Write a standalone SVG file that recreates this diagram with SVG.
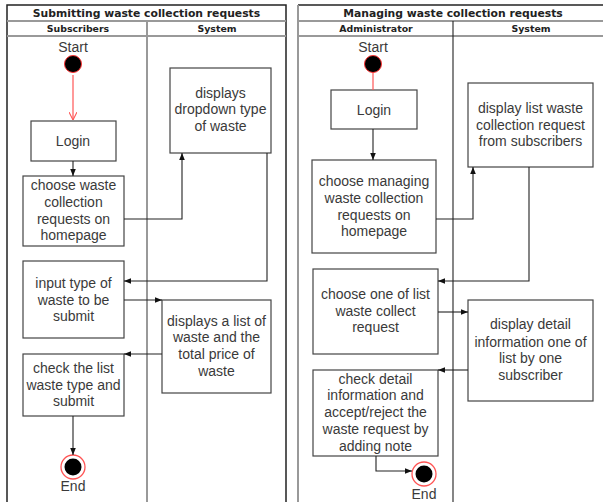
<svg xmlns="http://www.w3.org/2000/svg" width="603" height="502" viewBox="0 0 603 502">
<defs>
<style>
.title{font-family:"DejaVu Sans",Verdana,sans-serif;font-weight:bold;font-size:10.8px;fill:#222;text-anchor:middle;dominant-baseline:central}
.lane{font-family:"DejaVu Sans",Verdana,sans-serif;font-weight:bold;font-size:9.4px;fill:#222;text-anchor:middle;dominant-baseline:central}
.t{font-family:"Liberation Sans",Arial,sans-serif;font-size:14px;fill:#3a3a3a;text-anchor:middle;dominant-baseline:central}
.box{fill:#fff;stroke:#444;stroke-width:1.2}
.frame{fill:none;stroke:#222;stroke-width:1.5}
.sep{fill:none;stroke:#999;stroke-width:2}
.edge{fill:none;stroke:#222;stroke-width:1.1}
.red{fill:none;stroke:#f55;stroke-width:1.2}
</style>
<marker id="arr" viewBox="0 0 10 10" refX="10" refY="5" markerWidth="7" markerHeight="7" orient="auto" markerUnits="userSpaceOnUse">
<path d="M0,1 L10,5 L0,9 Z" fill="#111"/>
</marker>
<marker id="rarr" viewBox="0 0 10 10" refX="10" refY="5" markerWidth="8" markerHeight="8" orient="auto" markerUnits="userSpaceOnUse">
<path d="M0,0 L10,5 L0,10" fill="none" stroke="#f55" stroke-width="1.3"/>
</marker>
</defs>
<rect width="603" height="502" fill="#fff"/>

<!-- Left pool -->
<g id="pool-left">
<path class="frame" d="M7,503 V5 H286 V503"/>
<line class="sep" x1="7" y1="21" x2="286" y2="21"/>
<line class="sep" x1="7" y1="36" x2="286" y2="36"/>
<line class="sep" x1="147" y1="21" x2="147" y2="503" stroke-width="1.5"/>
<text class="title" x="146.5" y="13">Submitting waste collection requests</text>
<text class="lane" x="78" y="28.5">Subscribers</text>
<text class="lane" x="217" y="28.5">System</text>
</g>

<!-- Right pool -->
<g id="pool-right">
<path class="frame" d="M298,5 H604"/>
<line class="sep" x1="298" y1="5" x2="298" y2="503"/>
<line class="sep" x1="298" y1="21" x2="604" y2="21"/>
<line class="sep" x1="298" y1="36" x2="604" y2="36"/>
<line x1="453" y1="21" x2="453" y2="503" stroke="#222" stroke-width="1.1"/>
<text class="title" x="453" y="13">Managing waste collection requests</text>
<text class="lane" x="376" y="28.5">Administrator</text>
<text class="lane" x="531" y="28.5">System</text>
</g>

<!-- Left nodes -->
<g id="l-start">
<text class="t" x="73" y="47">Start</text>
<circle cx="73" cy="64" r="8.5" fill="#000" stroke="#f33" stroke-width="1"/>
</g>
<g id="l-login"><rect class="box" x="31" y="121" width="85" height="40"/><text class="t" x="73" y="141">Login</text></g>
<g id="l-choose"><rect class="box" x="23" y="176" width="101" height="70"/>
<text class="t" x="73.5" y="185">choose waste</text><text class="t" x="73.5" y="202">collection</text><text class="t" x="73.5" y="219">requests on</text><text class="t" x="73.5" y="235">homepage</text></g>
<g id="l-dropdown"><rect class="box" x="170" y="68" width="101" height="85"/>
<text class="t" x="220.5" y="93">displays</text><text class="t" x="220.5" y="109">dropdown type</text><text class="t" x="220.5" y="126">of waste</text></g>
<g id="l-input"><rect class="box" x="23" y="261" width="101" height="77"/>
<text class="t" x="73.5" y="283">input type of</text><text class="t" x="73.5" y="300">waste to be</text><text class="t" x="73.5" y="316">submit</text></g>
<g id="l-list"><rect class="box" x="162" y="300" width="109" height="93"/>
<text class="t" x="216.5" y="321">displays a list of</text><text class="t" x="216.5" y="337">waste and the</text><text class="t" x="216.5" y="354">total price of</text><text class="t" x="216.5" y="371">waste</text></g>
<g id="l-check"><rect class="box" x="23" y="354" width="101" height="62"/>
<text class="t" x="73.5" y="368">check the list</text><text class="t" x="73.5" y="385">waste type and</text><text class="t" x="73.5" y="401">submit</text></g>
<g id="l-end">
<circle cx="73" cy="467" r="12" fill="#fff" stroke="#f55" stroke-width="1.3"/>
<circle cx="73" cy="467" r="8.5" fill="#000"/>
<text class="t" x="73" y="486">End</text>
</g>

<!-- Right nodes -->
<g id="r-start">
<text class="t" x="373" y="47">Start</text>
<circle cx="373" cy="64" r="8.5" fill="#000" stroke="#f33" stroke-width="1"/>
</g>
<g id="r-login"><rect class="box" x="331" y="90" width="86" height="39"/><text class="t" x="374" y="109.5">Login</text></g>
<g id="r-choose"><rect class="box" x="312" y="160" width="124" height="93"/>
<text class="t" x="374" y="181">choose managing</text><text class="t" x="374" y="198">waste collection</text><text class="t" x="374" y="215">requests on</text><text class="t" x="374" y="231">homepage</text></g>
<g id="r-displaylist"><rect class="box" x="468" y="83" width="125" height="84"/>
<text class="t" x="530.5" y="108">display list waste</text><text class="t" x="530.5" y="125">collection request</text><text class="t" x="530.5" y="141">from subscribers</text></g>
<g id="r-chooseone"><rect class="box" x="313" y="269" width="125" height="85"/>
<text class="t" x="375.5" y="294">choose one of list</text><text class="t" x="375.5" y="311">waste collect</text><text class="t" x="375.5" y="327">request</text></g>
<g id="r-detail"><rect class="box" x="468" y="300" width="125" height="101"/>
<text class="t" x="530.5" y="324">display detail</text><text class="t" x="530.5" y="342">information one of</text><text class="t" x="530.5" y="358">list by one</text><text class="t" x="530.5" y="375">subscriber</text></g>
<g id="r-check"><rect class="box" x="313" y="370" width="125" height="86"/>
<text class="t" x="375.5" y="379">check detail</text><text class="t" x="375.5" y="395">information and</text><text class="t" x="375.5" y="412">accept/reject the</text><text class="t" x="375.5" y="429">waste request by</text><text class="t" x="375.5" y="446">adding note</text></g>
<g id="r-end">
<circle cx="424" cy="474" r="12" fill="#fff" stroke="#f55" stroke-width="1.3"/>
<circle cx="424" cy="474" r="8.5" fill="#000"/>
<text class="t" x="424" y="494">End</text>
</g>

<!-- Connectors -->
<g id="connectors">
<path class="red" d="M73,75 V120" marker-end="url(#rarr)"/>
<path class="edge" d="M73,161 V176" marker-end="url(#arr)"/>
<path class="edge" d="M124,219 H182 V153" marker-end="url(#arr)"/>
<path class="edge" d="M267,153 V281 H124" marker-end="url(#arr)"/>
<path class="edge" d="M124,300 H162" marker-end="url(#arr)"/>
<path class="edge" d="M162,354 H124" marker-end="url(#arr)"/>
<path class="edge" d="M73,416 V455" marker-end="url(#arr)"/>

<path class="red" d="M373,73 V90"/>
<path class="edge" d="M373,129 V160" marker-end="url(#arr)"/>
<path class="edge" d="M436,219 H473 V167" marker-end="url(#arr)"/>
<path class="edge" d="M529,167 V281 H438" marker-end="url(#arr)"/>
<path class="edge" d="M438,312 H468" marker-end="url(#arr)"/>
<path class="edge" d="M468,370 H438" marker-end="url(#arr)"/>
<path class="edge" d="M376,456 V471 H412" marker-end="url(#arr)"/>
</g>
</svg>
